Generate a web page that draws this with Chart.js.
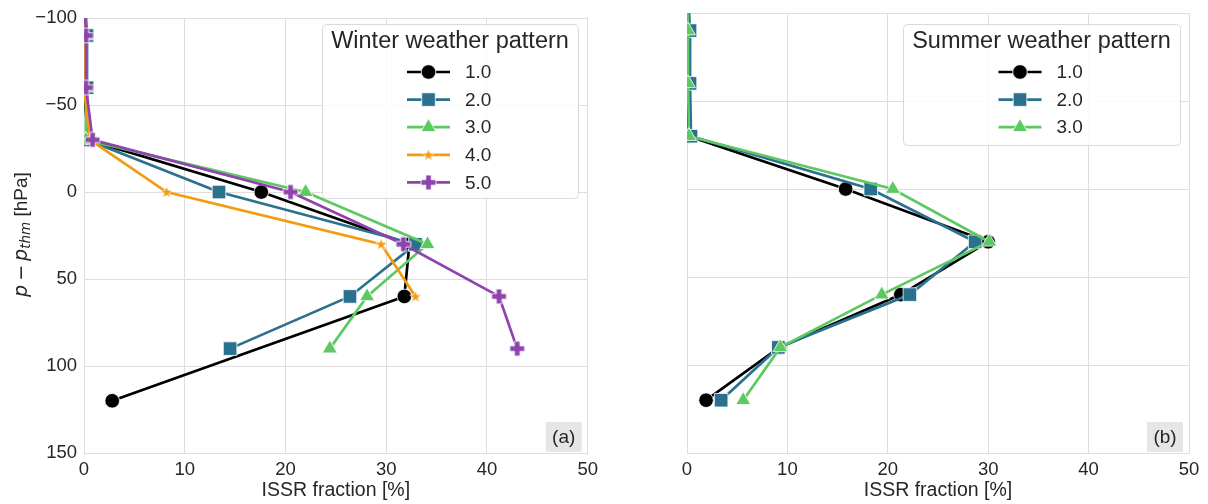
<!DOCTYPE html>
<html>
<head>
<meta charset="utf-8">
<script src="https://cdn.jsdelivr.net/npm/chart.js@4.4.0/dist/chart.umd.min.js"></script>
<style>
  html, body { margin: 0; padding: 0; background: #fff; }
  #wrap { position: relative; width: 1208px; height: 504px; }
  .panel { position: absolute; top: 0; width: 604px; height: 504px; }
</style>
</head>
<body>
<div id="wrap">
  <div class="panel" style="left:0"><canvas id="winter" width="604" height="504"></canvas></div>
  <div class="panel" style="left:604px"><canvas id="summer" width="604" height="504"></canvas></div>
</div>
<script>
// pressure levels relative to thermal tropopause [hPa]
const levels = [-120, -90, -60, -30, 0, 30, 60, 90, 120];

// winter weather patterns, ISSR fraction [%] (null = no value)
const winterNames = ['1.0', '2.0', '3.0', '4.0', '5.0'];
const winter1 = [0, 0, 0, 0.4, 17.6, 32.3, 31.8, null, 2.8];
const winter2 = [0, 0.3, 0.3, 0.3, 13.4, 32.9, 26.4, 14.5, null];
const winter3 = [0, 0.2, 0.2, 0.2, 22.0, 34.1, 28.1, 24.4, null];
const winter4 = [0, 0, 0, 0.6, 8.2, 29.5, 32.9, null, null];
const winter5 = [0, 0.2, 0.2, 0.85, 20.5, 31.7, 41.2, 43.0, null];

// summer weather patterns
const summerNames = ['1.0', '2.0', '3.0'];
const summer1 = [0, 0, 0, 0.2, 15.8, 30.0, 21.3, 9.2, 1.9];
const summer2 = [0, 0.3, 0.3, 0.4, 18.3, 28.7, 22.2, 9.1, 3.4];
const summer3 = [0, 0.1, 0.1, 0.2, 20.5, 30.1, 19.4, 9.3, 5.6];

const xTicks = [0, 10, 20, 30, 40, 50];
const yTicks = [-100, -50, 0, 50, 100, 150];

const FONT = "'Liberation Sans', Arial, sans-serif";
const MATH = "'DejaVu Sans', sans-serif";
const TXT = '#262626';
const GRID = '#dedede';

// matplotlib-like filled markers for star and plus
function makeStar(color) {
  const c = document.createElement('canvas');
  c.width = 14; c.height = 14;
  const g = c.getContext('2d');
  g.beginPath();
  for (let i = 0; i < 10; i++) {
    const r = i % 2 ? 2.6 : 6.3;
    const a = -Math.PI / 2 + i * Math.PI / 5;
    g.lineTo(7 + r * Math.cos(a), 7.4 + r * Math.sin(a));
  }
  g.closePath();
  g.fillStyle = color; g.fill();
  g.strokeStyle = '#fff'; g.lineWidth = 0.6; g.stroke();
  return c;
}
function makePlus(color) {
  const c = document.createElement('canvas');
  c.width = 17; c.height = 17;
  const g = c.getContext('2d');
  const m = 8.5, a = 2.7, b = 7.4;
  g.beginPath();
  g.moveTo(m - a, m - b); g.lineTo(m + a, m - b); g.lineTo(m + a, m - a); g.lineTo(m + b, m - a);
  g.lineTo(m + b, m + a); g.lineTo(m + a, m + a); g.lineTo(m + a, m + b); g.lineTo(m - a, m + b);
  g.lineTo(m - a, m + a); g.lineTo(m - b, m + a); g.lineTo(m - b, m - a); g.lineTo(m - a, m - a);
  g.closePath();
  g.fillStyle = color; g.fill();
  g.strokeStyle = '#fff'; g.lineWidth = 0.8; g.stroke();
  return c;
}

const styles = [
  { color: '#000000', pointStyle: 'circle', radius: 7.3 },
  { color: '#2a7190', pointStyle: 'rect', radius: 9.6 },
  { color: '#5ec962', pointStyle: 'triangle', radius: 8.6 },
  { color: '#f39c12', pointStyle: makeStar('#f39c12'), radius: 7 },
  { color: '#8e44ad', pointStyle: makePlus('#8e44ad'), radius: 8 }
];

function series(name, values, i, n) {
  const s = styles[i];
  const pts = [];
  values.forEach((v, k) => { if (v !== null) pts.push({ x: v, y: levels[k] }); });
  return {
    label: name,
    data: pts,
    showLine: true,
    spanGaps: true,
    borderColor: s.color,
    borderWidth: 2.7,
    tension: 0,
    pointStyle: s.pointStyle,
    pointRadius: s.radius,
    pointHoverRadius: s.radius,
    pointBackgroundColor: s.color,
    pointBorderColor: '#ffffff',
    pointBorderWidth: 0.8,
    order: n - i
  };
}

const legendBox = {
  id: 'legendBox',
  afterDatasetsDraw(chart, args, o) {
    const ctx = chart.ctx;
    ctx.save();
    ctx.beginPath();
    ctx.roundRect(o.x + 0.5, o.y + 0.5, o.w, o.h, 4);
    ctx.fillStyle = 'rgba(255,255,255,0.85)';
    ctx.fill();
    ctx.strokeStyle = '#d9d9d9';
    ctx.lineWidth = 1;
    ctx.stroke();
    const cx = o.x + o.w / 2;
    ctx.fillStyle = TXT;
    ctx.textAlign = 'center';
    ctx.textBaseline = 'middle';
    ctx.font = '23.5px ' + FONT;
    ctx.fillText(o.title, cx, o.y + 18);
    chart.data.datasets.forEach((ds, i) => {
      const y = o.y + 48 + i * 27.6;
      ctx.beginPath();
      ctx.moveTo(cx - 43, y);
      ctx.lineTo(cx, y);
      ctx.strokeStyle = ds.borderColor;
      ctx.lineWidth = 2.7;
      ctx.stroke();
      ctx.fillStyle = ds.pointBackgroundColor;
      ctx.strokeStyle = '#fff';
      ctx.lineWidth = 0.8;
      Chart.helpers.drawPoint(ctx, { pointStyle: ds.pointStyle, radius: ds.pointRadius, rotation: 0, borderWidth: 0.8 }, cx - 21.5, y);
      ctx.fillStyle = TXT;
      ctx.textAlign = 'left';
      ctx.font = '19px ' + FONT;
      ctx.fillText(ds.label, cx + 15, y + 1);
    });
    ctx.restore();
  }
};

const panelTag = {
  id: 'panelTag',
  afterDraw(chart, args, o) {
    const ctx = chart.ctx;
    const a = chart.chartArea;
    ctx.save();
    ctx.fillStyle = '#e6e6e6';
    ctx.fillRect(a.right - 42, a.bottom - 31, 36, 30);
    ctx.fillStyle = TXT;
    ctx.font = '19px ' + FONT;
    ctx.textAlign = 'center';
    ctx.textBaseline = 'middle';
    ctx.fillText(o.text, a.right - 24, a.bottom - 15);
    ctx.restore();
  }
};

const yTitle = {
  id: 'yTitle',
  afterDraw(chart, args, o) {
    if (!o.show) return;
    const ctx = chart.ctx;
    const a = chart.chartArea;
    const parts = [
      ['p', 'oblique 19px ' + MATH, 0, 0],
      ['\u2212', '19px ' + MATH, 0, 4],
      ['p', 'oblique 19px ' + MATH, 0, 4],
      ['thm', 'oblique 13.5px ' + MATH, 4, 0],
      [' [hPa]', '19px ' + FONT, 0, 0]
    ];
    ctx.save();
    let total = 0;
    parts.forEach(p => { ctx.font = p[1]; total += p[3] + ctx.measureText(p[0]).width; });
    ctx.translate(22, (a.top + a.bottom) / 2 - 1);
    ctx.rotate(-Math.PI / 2);
    ctx.fillStyle = TXT;
    ctx.textBaseline = 'middle';
    ctx.textAlign = 'left';
    let x = -total / 2;
    parts.forEach(p => {
      ctx.font = p[1];
      x += p[3];
      ctx.fillText(p[0], x, p[2]);
      x += ctx.measureText(p[0]).width;
    });
    ctx.restore();
  }
};

function options(isLeft, legend, tag) {
  return {
    responsive: false,
    animation: false,
    layout: { padding: { top: 13, right: isLeft ? 16 : 19, left: 0, bottom: 0 } },
    plugins: {
      legend: { display: false },
      tooltip: { enabled: false },
      legendBox: legend,
      panelTag: { text: tag },
      yTitle: { show: isLeft }
    },
    scales: {
      x: {
        type: 'linear', min: xTicks[0], max: xTicks[xTicks.length - 1],
        afterBuildTicks: s => { s.ticks = xTicks.map(v => ({ value: v })); },
        ticks: { padding: 6, color: TXT, font: { size: 18.5, family: FONT } },
        grid: { color: GRID, lineWidth: 1, drawTicks: false },
        border: { color: GRID },
        title: { display: true, text: 'ISSR fraction [%]', color: TXT, font: { size: 19.5, family: FONT }, padding: { top: 0, bottom: 2 } },
        afterFit: s => { s.height = 51; }
      },
      y: {
        type: 'linear', reverse: true, min: yTicks[0], max: yTicks[yTicks.length - 1],
        afterBuildTicks: s => { s.ticks = yTicks.map(v => ({ value: v })); },
        ticks: {
          display: isLeft, padding: 7, color: TXT, font: { size: 18.5, family: FONT },
          callback: v => String(v).replace('-', '\u2212')
        },
        grid: { color: GRID, lineWidth: 1, drawTicks: false },
        border: { color: GRID },
        afterFit: s => { s.width = isLeft ? 84 : 83; }
      }
    }
  };
}

const winterSets = [winter1, winter2, winter3, winter4, winter5];
new Chart(document.getElementById('winter'), {
  type: 'scatter',
  data: { datasets: winterSets.map((v, i) => series(winterNames[i], v, i, winterSets.length)) },
  options: options(true, { x: 322, y: 24, w: 256, h: 174, title: 'Winter weather pattern' }, '(a)'),
  plugins: [legendBox, panelTag, yTitle]
});

const summerSets = [summer1, summer2, summer3];
new Chart(document.getElementById('summer'), {
  type: 'scatter',
  data: { datasets: summerSets.map((v, i) => series(summerNames[i], v, i, summerSets.length)) },
  options: options(false, { x: 299, y: 24, w: 277, h: 121, title: 'Summer weather pattern' }, '(b)'),
  plugins: [legendBox, panelTag, yTitle]
});
</script>
</body>
</html>
